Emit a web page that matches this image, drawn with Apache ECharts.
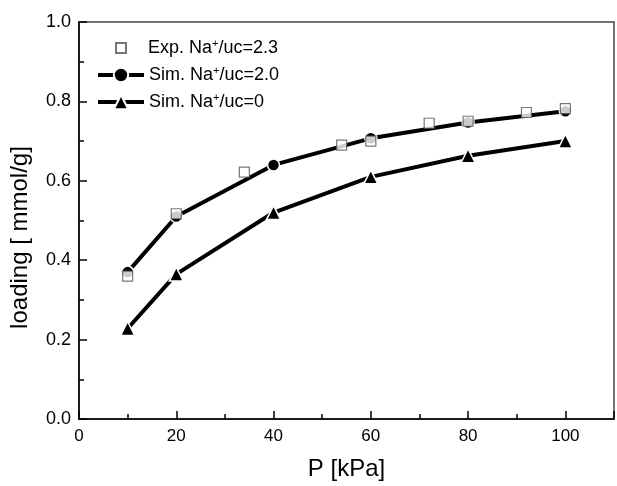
<!DOCTYPE html>
<html>
<head>
<meta charset="utf-8">
<script src="https://cdn.jsdelivr.net/npm/echarts@6/dist/echarts.min.js"></script>
<style>
  html, body { margin: 0; padding: 0; background: #fff; }
  #chart { width: 617px; height: 486px; }
</style>
</head>
<body>
<div id="chart"></div>
<script>
// measured values
const expP = [10, 20, 34, 54, 60, 72, 80, 92, 100];
const expLoading = [0.36, 0.517, 0.622, 0.69, 0.70, 0.745, 0.75, 0.772, 0.782];
const simP = [10, 20, 40, 60, 80, 100];
const sim20Loading = [0.37, 0.51, 0.64, 0.707, 0.747, 0.775];
const sim0Loading = [0.228, 0.365, 0.52, 0.61, 0.663, 0.70];

const pairs = (xs, ys) => xs.map((x, i) => [x, ys[i]]);
const font = 'Liberation Sans, Arial, sans-serif';

const legendRich = {
  sp: { width: 17 },
  a: { fontSize: 18, fontFamily: font, color: '#000', lineHeight: 20 },
  sup: { fontSize: 11, fontFamily: font, color: '#000', verticalAlign: 'top', lineHeight: 20, padding: [0, 0, 9, 0] }
};

const mychart = echarts.init(document.getElementById('chart'));
const option = {
  animation: false,
  grid: {
    left: 79, right: 2, top: 22, bottom: 64,
    show: true, borderColor: '#444', borderWidth: 1.5
  },
  legend: [
    {
      left: 115, top: 38, padding: 0,
      itemWidth: 10, itemHeight: 10,
      textStyle: { rich: legendRich },
      formatter: () => '{sp|}{a|Exp. Na}{sup|+}{a|/uc=2.3}',
      data: ['exp']
    },
    {
      orient: 'vertical',
      left: 96, top: 65, padding: 0,
      itemGap: 7,
      itemWidth: 46, itemHeight: 18,
      lineStyle: { width: 4 },
      textStyle: { rich: legendRich },
      formatter: name => name === 'sim2'
        ? '{a|Sim. Na}{sup|+}{a|/uc=2.0}'
        : '{a|Sim. Na}{sup|+}{a|/uc=0}',
      data: ['sim2', 'sim0']
    }
  ],
  xAxis: {
    type: 'value', min: 0, max: 110, interval: 20,
    name: 'P [kPa]', nameLocation: 'middle', nameGap: 38,
    nameTextStyle: { fontSize: 24, fontFamily: font, color: '#000' },
    axisLine: { lineStyle: { color: '#000', width: 1.5 } },
    axisTick: { inside: true, length: 8, lineStyle: { color: '#000', width: 1.5 } },
    minorTick: { show: true, splitNumber: 2, length: 5, lineStyle: { color: '#000', width: 1.5 } },
    axisLabel: {
      fontSize: 17, fontFamily: font, color: '#000', margin: 9,
      formatter: v => (v > 100 ? '' : String(v))
    },
    splitLine: { show: false }
  },
  yAxis: {
    type: 'value', min: 0, max: 1.0, interval: 0.2,
    name: 'loading [ mmol/g]', nameLocation: 'middle', nameGap: 47,
    nameTextStyle: { fontSize: 24, fontFamily: font, color: '#000', padding: [0, 34, 0, 0] },
    axisLine: { show: true, lineStyle: { color: '#000', width: 1.5 } },
    axisTick: { inside: true, length: 8, lineStyle: { color: '#000', width: 1.5 } },
    minorTick: { show: true, splitNumber: 2, length: 5, lineStyle: { color: '#000', width: 1.5 } },
    axisLabel: {
      fontSize: 18, fontFamily: font, color: '#000', margin: 8,
      formatter: v => v.toFixed(1)
    },
    splitLine: { show: false }
  },
  series: [
    {
      name: 'exp',
      type: 'scatter',
      data: pairs(expP, expLoading),
      symbol: 'rect',
      symbolSize: 10,
      itemStyle: { color: '#fff', borderColor: '#555', borderWidth: 1.2 },
      z: 3
    },
    {
      name: 'sim2',
      type: 'line',
      data: pairs(simP, sim20Loading),
      symbol: 'circle',
      symbolSize: 12,
      lineStyle: { color: '#000', width: 4 },
      itemStyle: { color: '#000', borderColor: '#fff', borderWidth: 1.5 },
      z: 2
    },
    {
      name: 'sim0',
      type: 'line',
      data: pairs(simP, sim0Loading),
      symbol: 'triangle',
      symbolSize: 14,
      lineStyle: { color: '#000', width: 4 },
      itemStyle: { color: '#000', borderColor: '#fff', borderWidth: 1.5 },
      z: 2
    }
  ]
};
mychart.setOption(option);
</script>
</body>
</html>
